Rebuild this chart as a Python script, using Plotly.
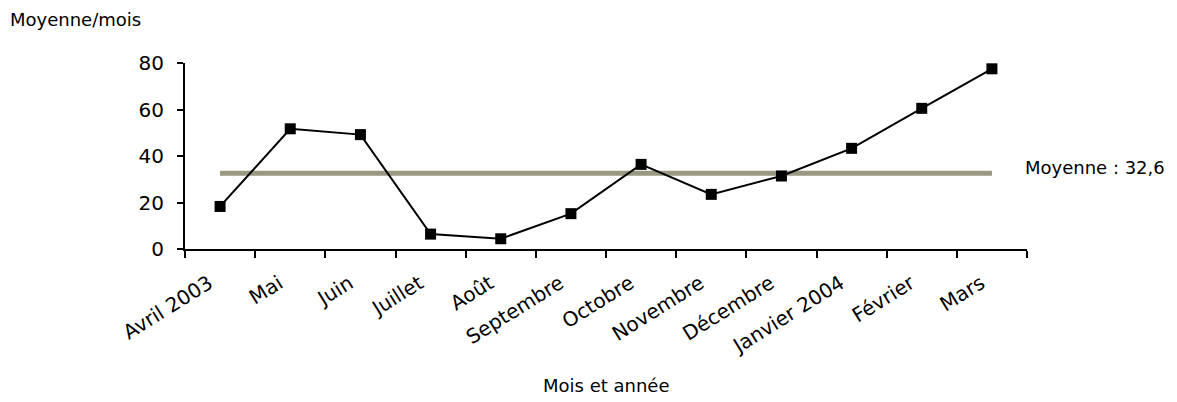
import plotly.graph_objects as go

# Monthly averages, April 2003 - March 2004
months = ["Avril 2003", "Mai", "Juin", "Juillet", "Août", "Septembre",
          "Octobre", "Novembre", "Décembre", "Janvier 2004", "Février", "Mars"]
monthly_avg = [18.3, 51.7, 49.2, 6.4, 4.4, 15.2, 36.4, 23.5, 31.4, 43.3, 60.5, 77.5]
overall_mean = 32.6
mean_label = "Moyenne : 32,6"

y_ticks = [0, 20, 40, 60, 80]

FONT = "DejaVu Sans"

fig = go.Figure()

# Horizontal reference line for the overall mean
fig.add_trace(go.Scatter(
    x=months, y=[overall_mean] * len(months),
    mode="lines",
    line=dict(color="#9a9880", width=5),
    hoverinfo="skip",
    showlegend=False,
))

# Monthly series
fig.add_trace(go.Scatter(
    x=months, y=monthly_avg,
    mode="lines+markers",
    line=dict(color="black", width=2),
    marker=dict(symbol="square", size=11, color="black"),
    showlegend=False,
))

fig.update_layout(
    width=1177, height=402,
    margin=dict(l=185, r=150, t=63, b=153),
    paper_bgcolor="white", plot_bgcolor="white",
    font=dict(family=FONT, size=18, color="black"),
    xaxis=dict(
        type="category",
        categoryorder="array", categoryarray=months,
        range=[-0.5, len(months) - 0.5],
        tickson="boundaries",
        ticks="outside", ticklen=7, tickwidth=2, tickcolor="black",
        showline=True, linecolor="black", linewidth=2,
        showgrid=False, zeroline=False,
        tickangle=-32,
        ticklabelstandoff=13,
        ticklabelshift=-11,
        tickfont=dict(family=FONT, size=20),
    ),
    yaxis=dict(
        range=[0, 80],
        tickvals=y_ticks,
        ticks="outside", ticklen=6, tickwidth=2, tickcolor="black",
        showline=True, linecolor="black", linewidth=2,
        showgrid=False, zeroline=False,
        ticklabelstandoff=9,
        tickfont=dict(family=FONT, size=20),
    ),
    annotations=[
        dict(text="Moyenne/mois", xref="paper", yref="paper",
             x=(8 - 185) / 842, y=(249.3 - 20) / 186, xanchor="left", yanchor="middle",
             showarrow=False, font=dict(family=FONT, size=18)),
        dict(text="Mois et année", xref="paper", yref="paper",
             x=0.5, y=-(386 - 249.3) / 186, xanchor="center", yanchor="middle",
             showarrow=False, font=dict(family=FONT, size=18)),
        dict(text=mean_label, xref="paper", yref="paper",
             x=(1023 - 185) / 842, y=(249.3 - 168) / 186, xanchor="left", yanchor="middle",
             showarrow=False, font=dict(family=FONT, size=18)),
    ],
)

fig.write_html("out.html")
